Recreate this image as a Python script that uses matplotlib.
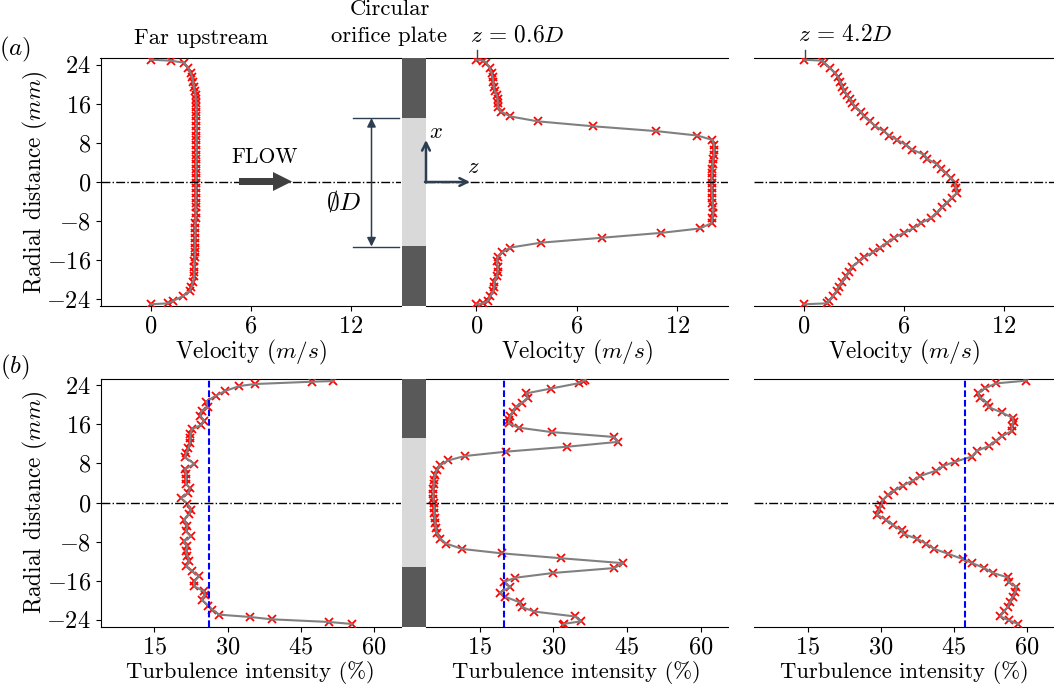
import matplotlib
matplotlib.use('Agg')
import matplotlib.pyplot as plt
from matplotlib.patches import FancyArrow

plt.rcParams['font.family'] = ['cmr10', 'DejaVu Serif']
plt.rcParams['mathtext.fontset'] = 'cm'
plt.rcParams['axes.formatter.use_mathtext'] = True
plt.rcParams['axes.unicode_minus'] = True

W, H = 1054, 685

# probe positions shared by most of the traverses (mm)
radial = [25.0, 24.8, 24.4, 23.3, 22.3, 21.4, 20.4, 19.5, 18.6, 17.7, 16.9, 16.2, 15.3, 14.4,
          13.4, 12.4, 11.4, 10.4, 9.5, 8.6, 7.6, 6.6, 5.6, 4.7, 3.7, 2.7, 1.8, 0.8,
          -0.2, -1.2, -2.2, -3.2, -4.2, -5.2, -6.3, -7.4, -8.4, -9.5, -10.4, -11.4, -12.4,
          -13.4, -14.4, -15.4, -16.2, -17.3, -18.4, -19.3, -20.4, -21.4, -22.3, -23.3,
          -24.3, -24.8, -25.0]

# velocity (m/s)
vel_upstream = [0, 1.2, 2.0, 2.25, 2.4, 2.5, 2.55, 2.6, 2.65, 2.7, 2.7, 2.75, 2.75, 2.75, 2.75,
                2.75, 2.75, 2.75, 2.75, 2.75, 2.75, 2.75, 2.75, 2.75, 2.72, 2.75, 2.72, 2.72,
                2.72, 2.7, 2.72, 2.7, 2.7, 2.7, 2.7, 2.7, 2.68, 2.68, 2.68, 2.68, 2.65, 2.65,
                2.65, 2.65, 2.62, 2.62, 2.62, 2.6, 2.55, 2.45, 2.35, 1.95, 1.35, 1.05, 0]
vel_z06 = [0, 0.42, 0.6, 0.8, 0.92, 0.98, 1.02, 1.05, 1.1, 1.24, 1.28, 1.28, 1.28, 1.48, 2.04,
           3.67, 6.95, 10.76, 13.2, 14.1, 14.2, 14.2, 14.2, 14.15, 14.12, 14.1, 14.08, 14.05,
           14.05, 14.05, 14.08, 14.1, 14.1, 14.15, 14.15, 14.1, 14.05, 13.35, 11.04, 7.5, 3.87,
           2.04, 1.54, 1.28, 1.24, 1.28, 1.28, 1.24, 1.08, 1.08, 1.02, 0.85, 0.68, 0.42, 0]
vel_z42 = [0, 1.08, 1.2, 1.55, 1.85, 2.06, 2.18, 2.3, 2.42, 2.6, 2.76, 2.9, 3.08, 3.42, 3.58,
           3.96, 4.28, 4.78, 5.12, 5.6, 6.1, 6.5, 7.2, 7.4, 7.95, 8.2, 8.5, 8.8, 9.05, 9.1, 9.2,
           8.85, 8.6, 8.3, 7.95, 7.6, 7.0, 6.54, 6.0, 5.4, 5.0, 4.55, 4.12, 3.62, 3.32, 2.88,
           2.7, 2.5, 2.3, 2.08, 1.95, 1.75, 1.5, 1.38, 0]

# turbulence intensity (%)
radial_ti_upstream = [24.83, 24.69, 24.22, 23.81, 22.79, 21.84, 20.61, 19.59, 18.71, 17.76, 16.73,
                      15.85, 14.97, 13.95, 13.13, 12.11, 11.09, 10.07, 9.25, 7.89, 6.8, 5.85, 4.76,
                      3.81, 2.93, 2.04, 0.88, -0.27, -1.5, -2.31, -3.54, -4.76, -5.92, -6.94, -7.96,
                      -8.98, -10.0, -11.02, -12.04, -13.06, -14.08, -15.1, -16.12, -17.14, -18.16,
                      -18.98, -19.86, -21.09, -21.9, -22.93, -23.4, -23.88, -24.42, -24.83]
ti_upstream = [51.6, 47.2, 35.6, 32.4, 29.5, 27.6, 25.6, 26.1, 24.7, 24.4, 25.2, 24.6, 22.7, 22.4,
               22.4, 22.3, 22.0, 21.5, 21.3, 23.2, 21.3, 21.5, 21.5, 21.5, 22.3, 22.0, 20.5, 21.8,
               22.5, 22.2, 21.1, 21.8, 21.5, 22.5, 21.0, 21.8, 21.5, 21.8, 22.2, 21.5, 22.8, 24.2,
               23.2, 23.2, 25.2, 25.4, 24.7, 26.1, 26.9, 28.3, 34.6, 39.0, 50.7, 55.4]
ti_z06 = [36.5, 36.0, 35.2, 29.5, 24.4, 24.8, 23.6, 22.3, 21.8, 21.2, 21.0, 20.9, 22.9, 29.6, 42.3,
          43.2, 32.8, 20.4, 11.9, 8.5, 6.9, 6.2, 5.8, 5.6, 5.6, 5.5, 5.5, 5.5, 5.6, 5.7, 5.7, 5.8,
          5.9, 6.0, 6.2, 6.9, 8.1, 11.4, 19.5, 31.6, 44.2, 42.4, 30.0, 22.1, 20.0, 21.2, 19.1, 20.2,
          23.1, 23.6, 26.1, 34.4, 35.6, 32.2, 31.9]
radial_ti_z42 = [24.9, 24.35, 23.33, 22.3, 21.4, 20.4, 19.5, 18.4, 17.3, 16.5, 15.6, 14.6, 13.6,
                 12.65, 11.56, 10.6, 9.4, 8.37, 7.48, 6.53, 5.44, 4.49, 3.47, 2.45, 1.56, 0.54,
                 -0.48, -1.36, -2.52, -3.54, -4.56, -5.71, -6.46, -7.41, -8.44, -9.46, -10.5,
                 -11.56, -12.38, -13.4, -14.42, -15.3, -16.33, -17.28, -18.37, -19.32, -20.34,
                 -21.36, -22.24, -23.27, -24.08, -24.83]
ti_z42 = [59.7, 53.6, 51.3, 49.9, 50.4, 51.7, 52.1, 54.8, 57.0, 57.2, 56.8, 56.8, 54.9, 53.6, 52.2,
          49.8, 48.7, 45.3, 42.8, 41.4, 38.1, 36.6, 34.5, 32.8, 31.5, 30.4, 30.1, 29.7, 29.2, 31.1,
          32.4, 34.3, 34.7, 37.4, 39.3, 40.9, 43.8, 46.8, 48.7, 51.2, 53.0, 56.0, 56.2, 57.8, 57.6,
          57.0, 56.5, 56.0, 55.3, 54.5, 56.2, 58.2]
ti_mean = [26.2, 19.9, 47.2]

y_ticks = [24, 16, 8, 0, -8, -16, -24]
vel_ticks = [0, 6, 12]
ti_ticks = [15, 30, 45, 60]
YLIM = (-25.35, 25.35)
PANELS = [(100.5, 401), (426, 727.5), (754, 1054)]
ORIFICE_R = 13.1

SLATE = '#2c3e50'


def panel(px_x, top, bottom):
    return fig.add_axes([px_x[0] / W, 1 - bottom / H, (px_x[1] - px_x[0]) / W, (bottom - top) / H])


def dibujar(ax, x, y, xlim, xticks, xlabel, xsize, xpad, first):
    ax.plot(x, y, ls='none', marker='x', ms=6, mew=1.3, color='red', zorder=3)
    ax.plot(x, y, color='gray', lw=1.5, zorder=4)
    ax.axhline(0, color='black', lw=1, ls='-.', zorder=5)
    ax.set_xlim(*xlim)
    ax.set_ylim(*YLIM)
    ax.set_xticks(xticks)
    ax.set_xlabel(xlabel, fontsize=xsize, labelpad=xpad)
    ax.tick_params(axis='both', labelsize=17.5, length=3.5, width=0.8, pad=3.5)
    ax.spines['right'].set_visible(False)
    if first:
        ax.set_yticks(y_ticks)
        ax.set_ylabel('Radial distance $(mm)$', fontsize=16.8, labelpad=-3)
    else:
        ax.set_yticks([])
        ax.spines['left'].set_visible(False)


fig = plt.figure(figsize=(W / 100, H / 100), dpi=100)

vel_data = [(vel_upstream, radial), (vel_z06, radial), (vel_z42, radial)]
ti_data = [(ti_upstream, radial_ti_upstream), (ti_z06, radial), (ti_z42, radial_ti_z42)]

for i, px in enumerate(PANELS):
    ax = panel(px, 58, 306)
    dibujar(ax, vel_data[i][0], vel_data[i][1], (-3, 15), vel_ticks, 'Velocity $(m/s)$', 16.7, 0, i == 0)

    ax2 = panel(px, 378.5, 626.5)
    dibujar(ax2, ti_data[i][0], ti_data[i][1], (4, 65.5), ti_ticks, 'Turbulence intensity (%)', 16.3, 2, i == 0)
    ax2.vlines(ti_mean[i], YLIM[0], 25.0, color='blue', lw=1.5, ls=(0, (3.2, 1.4)), zorder=6)

# orifice plate in between the first two columns
for top, bottom in [(58, 306), (378.5, 626.5)]:
    plate = panel((402, 426), top, bottom)
    plate.set_ylim(*YLIM)
    plate.set_xlim(0, 1)
    plate.axis('off')
    plate.barh(0, 1, height=2 * ORIFICE_R, color='#d9d9d9', edgecolor='none')
    plate.barh((YLIM[1] + ORIFICE_R) / 2, 1, height=YLIM[1] - ORIFICE_R, color='#595959', edgecolor='none')
    plate.barh((YLIM[0] - ORIFICE_R) / 2, 1, height=YLIM[1] - ORIFICE_R, color='#595959', edgecolor='none')

# overlay in picture pixels for the sketch annotations
ov = fig.add_axes([0, 0, 1, 1], zorder=10)
ov.set_xlim(0, W)
ov.set_ylim(H, 0)
ov.axis('off')
ov.patch.set_alpha(0)

TXT = 16.3
ov.text(15, 49, '$(a)$', fontsize=18, ha='center', va='center')
ov.text(15, 367, '$(b)$', fontsize=18, ha='center', va='center')
ov.text(201, 38, 'Far upstream', fontsize=TXT, ha='center', va='center')
ov.text(390, 9, 'Circular', fontsize=TXT, ha='center', va='center')
ov.text(389, 36, 'orifice plate', fontsize=TXT, ha='center', va='center')
ov.text(517, 35, '$z\\,=\\,0.6D$', fontsize=16.8, ha='center', va='center')
ov.text(845, 35, '$z\\,=\\,4.2D$', fontsize=16.8, ha='center', va='center')
ov.plot([477, 477], [50, 58], color='#444444', lw=1)
ov.plot([804.5, 804.5], [50, 58], color='#444444', lw=1)

ov.text(265, 157, 'FLOW', fontsize=15.5, ha='center', va='center')
ov.add_patch(FancyArrow(239, 181.5, 53, 0, width=7, head_width=19, head_length=19,
                        length_includes_head=True, color='#404040', lw=0))
ov.text(344, 201, '$\\emptyset D$', fontsize=18.5, ha='center', va='center')

ov.plot([353, 399], [118, 118], color=SLATE, lw=1)
ov.plot([353, 399], [246.5, 246.5], color=SLATE, lw=1)
ov.annotate('', xy=(371.5, 118), xytext=(371.5, 246.5),
            arrowprops=dict(arrowstyle='<|-|>', color=SLATE, lw=1.1, shrinkA=0, shrinkB=0, mutation_scale=13))

ov.annotate('', xy=(426, 140), xytext=(426, 182.5),
            arrowprops=dict(arrowstyle='->', color=SLATE, lw=1.8, shrinkA=0, shrinkB=0, mutation_scale=14))
ov.annotate('', xy=(470, 182), xytext=(425, 182),
            arrowprops=dict(arrowstyle='->', color=SLATE, lw=1.8, shrinkA=0, shrinkB=0, mutation_scale=14))
ov.text(436, 132, '$x$', fontsize=TXT, ha='center', va='center')
ov.text(473, 167, '$z$', fontsize=TXT, ha='center', va='center')

plt.savefig('out.png', dpi=100)
